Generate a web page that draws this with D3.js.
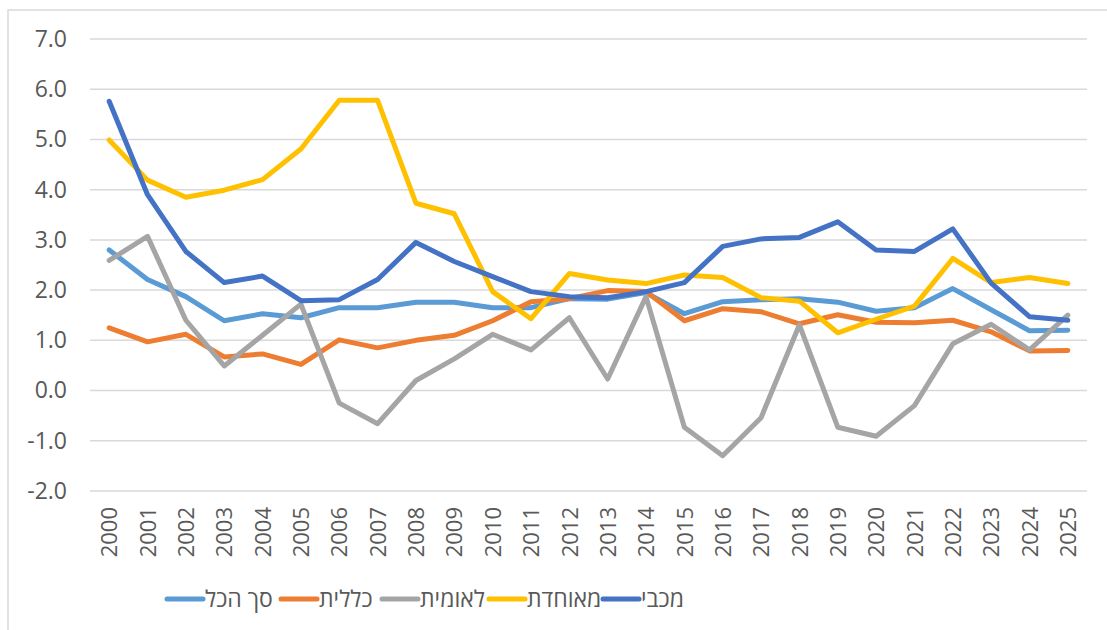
<!DOCTYPE html>
<meta charset="utf-8">
<title>Rates by health fund, 2000-2025</title>
<style>
body {
  margin: 0;
  background: #fff;
}

text {
  font-family: "Open Sans", "DejaVu Sans", sans-serif;
  fill: #595959;
}

.grid line {
  stroke: #d9d9d9;
  stroke-width: 1.5px;
}

.series {
  fill: none;
  stroke-width: 5px;
  stroke-linejoin: round;
  stroke-linecap: round;
}
</style>
<body>
<div id="chart"></div>

<script src="https://d3js.org/d3.v7.min.js"></script>
<script>
// Data
const years = d3.range(2000, 2026);
const yTicks = [-2, -1, 0, 1, 2, 3, 4, 5, 6, 7];

const seriesNames = ["סך הכל", "כללית", "לאומית", "מאוחדת", "מכבי"];
const seriesColors = ["#5b9bd5", "#ed7d31", "#a5a5a5", "#ffc000", "#4472c4"];

const total = [2.80, 2.21, 1.87, 1.39, 1.53, 1.45, 1.65, 1.65, 1.76, 1.76, 1.65, 1.65, 1.83,
  1.82, 1.95, 1.53, 1.77, 1.81, 1.83, 1.76, 1.58, 1.65, 2.03, 1.61, 1.19, 1.20];
const clalit = [1.25, 0.97, 1.12, 0.67, 0.73, 0.52, 1.01, 0.85, 1.00, 1.10, 1.39, 1.77, 1.83,
  1.99, 1.97, 1.39, 1.63, 1.57, 1.33, 1.51, 1.36, 1.35, 1.40, 1.17, 0.79, 0.80];
const leumit = [2.59, 3.07, 1.40, 0.49, 1.10, 1.72, -0.25, -0.66, 0.20, 0.63, 1.12, 0.81, 1.45,
  0.23, 1.87, -0.73, -1.30, -0.54, 1.31, -0.73, -0.91, -0.30, 0.93, 1.32, 0.81, 1.50];
const meuhedet = [4.99, 4.19, 3.85, 3.99, 4.20, 4.81, 5.78, 5.78, 3.73, 3.52, 1.97, 1.43, 2.33,
  2.20, 2.13, 2.30, 2.25, 1.85, 1.78, 1.15, 1.42, 1.68, 2.63, 2.15, 2.25, 2.13];
const maccabi = [5.76, 3.90, 2.77, 2.15, 2.28, 1.79, 1.81, 2.21, 2.95, 2.57, 2.27, 1.97, 1.87,
  1.85, 1.97, 2.15, 2.87, 3.02, 3.05, 3.36, 2.80, 2.77, 3.22, 2.14, 1.47, 1.40];

const seriesValues = [total, clalit, leumit, meuhedet, maccabi];

// Dimensions
const width = 1107;
const height = 630;
const plot = { left: 90, right: 1087, top: 39, bottom: 491 };

const svg = d3.select("#chart")
  .append("svg")
    .attr("width", width)
    .attr("height", height);

// Frame around the chart
svg.append("path")
    .attr("d", `M8,${height} V10 H${width}`)
    .attr("fill", "none")
    .attr("stroke", "#d9d9d9")
    .attr("stroke-width", 1.5);

// Scales
const x = d3.scalePoint()
    .domain(years)
    .range([plot.left, plot.right])
    .padding(0.5);

const y = d3.scaleLinear()
    .domain([-2, 7])
    .range([plot.bottom, plot.top]);

// Gridlines
svg.append("g")
    .attr("class", "grid")
  .selectAll("line")
  .data(yTicks)
  .enter().append("line")
    .attr("x1", plot.left)
    .attr("x2", plot.right)
    .attr("y1", d => y(d))
    .attr("y2", d => y(d));

// Y axis labels (plain hyphen for negatives, like the original)
const yAxis = svg.append("g")
    .attr("transform", `translate(${plot.left - 23},0)`)
    .call(d3.axisLeft(y).tickValues(yTicks).tickFormat(d => d.toFixed(1)).tickSize(0).tickPadding(0));
yAxis.select(".domain").remove();
yAxis.selectAll("text")
    .attr("font-size", 23)
    .attr("font-family", null)
    .attr("fill", null);

// X axis labels (rotated)
const xAxis = svg.append("g")
    .attr("transform", `translate(0,${plot.bottom + 16})`)
    .call(d3.axisBottom(x).tickSize(0).tickPadding(0));
xAxis.select(".domain").remove();
xAxis.selectAll("text")
    .attr("font-size", 22)
    .attr("font-family", null)
    .attr("fill", null)
    .attr("transform", "rotate(-90)")
    .attr("text-anchor", "end")
    .attr("x", 0)
    .attr("y", 0)
    .attr("dy", "0.35em");

// Lines
const line = d3.line()
    .x((d, i) => x(years[i]))
    .y(d => y(d));

svg.append("g")
  .selectAll("path")
  .data(seriesValues)
  .enter().append("path")
    .attr("class", "series")
    .attr("stroke", (d, i) => seriesColors[i])
    .attr("d", line);

// Legend
const legendX = [167, 281, 382, 489, 603];
const legend = svg.append("g")
  .selectAll("g")
  .data(seriesNames)
  .enter().append("g")
    .attr("transform", (d, i) => `translate(${legendX[i]},599)`);

legend.append("line")
    .attr("x1", 0)
    .attr("x2", 36)
    .attr("stroke", (d, i) => seriesColors[i])
    .attr("stroke-width", 5)
    .attr("stroke-linecap", "round");

legend.append("text")
    .attr("x", 38)
    .attr("dy", "0.35em")
    .attr("font-size", 23)
    .attr("direction", "rtl")
    .attr("text-anchor", "end")
    .text(d => d);
</script>
</body>
</html>
